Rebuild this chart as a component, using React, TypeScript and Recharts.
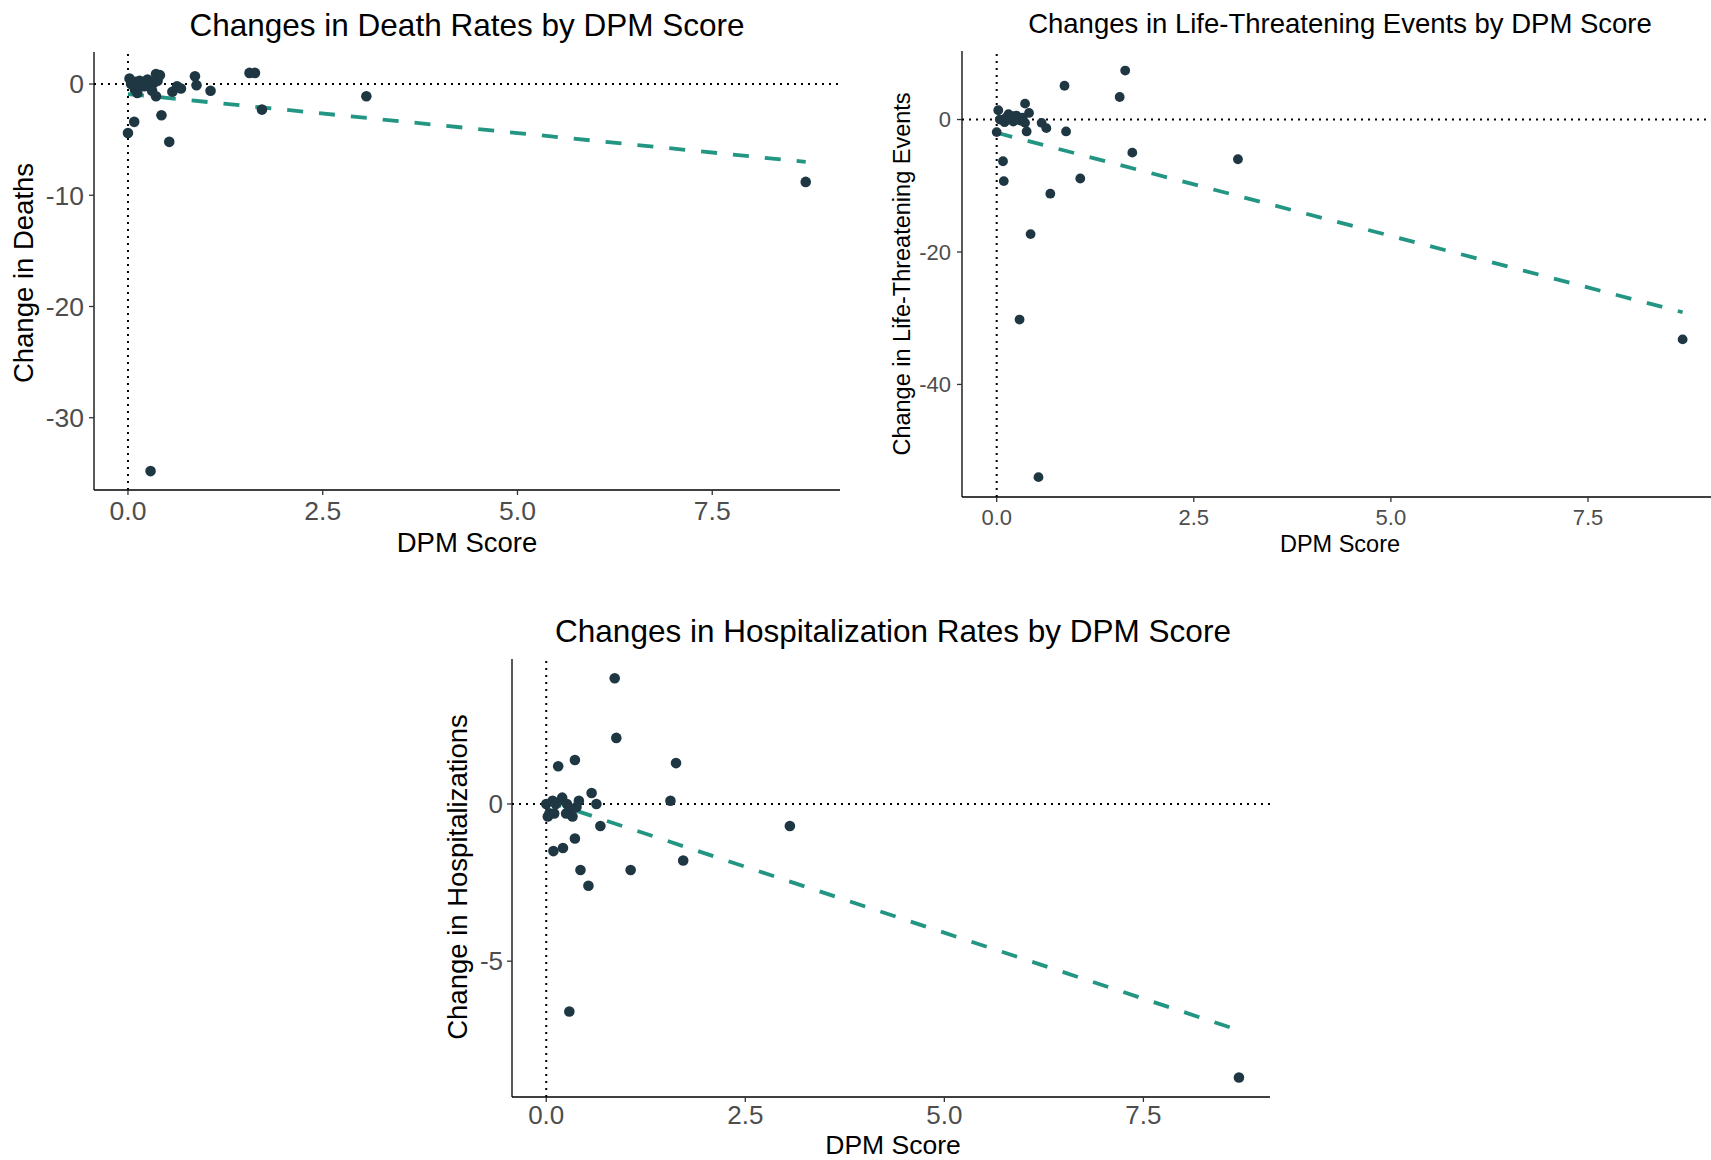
import React from 'react';
import { ScatterChart, Scatter, XAxis, YAxis, ReferenceLine } from 'recharts';

// one entry per observation, shared by the three panels
const dpmScores = [
  0.0, 0.02, 0.08, 0.09, 0.15, 0.2, 0.21, 0.25, 0.29, 0.31, 0.36, 0.36, 0.38, 0.41, 0.43, 0.53,
  0.57, 0.63, 0.68, 0.86, 0.88, 1.06, 1.56, 1.63, 1.72, 3.06, 8.7, 0.04, 0.1, 0.12, 0.26, 0.33,
];
const deathChanges = [
  -4.4, 0.5, -3.4, -0.5, 0.3, 0.0, -0.2, 0.4, -34.8, -0.6, 0.9, -1.1, 0.3, 0.8, -2.8, -5.2,
  -0.7, -0.2, -0.4, 0.7, -0.1, -0.6, 1.0, 1.0, -2.3, -1.1, -8.8, 0.0, 0.2, -0.8, 0.2, 0.1,
];
const lifeThreatChanges = [
  -1.9, 1.4, -6.3, -9.3, 0.8, 0.5, -0.3, 0.6, -30.2, -0.2, 2.4, -0.5, -1.8, 1.0, -17.3, -54.0,
  -0.5, -1.3, -11.2, 5.1, -1.8, -8.9, 3.4, 7.4, -5.0, -6.0, -33.2, 0.0, -0.4, 0.3, 0.0, 0.3,
];
const hospChanges = [
  0.0, -0.4, 0.1, -1.5, 1.2, 0.2, -1.4, -0.3, -6.6, -0.2, 1.4, -1.1, -0.1, 0.1, -2.1, -2.6,
  0.35, 0.0, -0.7, 4.0, 2.1, -2.1, 0.1, 1.3, -1.8, -0.7, -8.7, -0.3, -0.3, 0.0, 0.0, -0.4,
];

const xTicks = [0, 2.5, 5, 7.5];
const deathTicks = [-30, -20, -10, 0];
const lifeThreatTicks = [-40, -20, 0];
const hospTicks = [-5, 0];

// linear fit, read at both ends of the DPM range
const fitX = [0, 8.7];
const deathFit = [-0.9, -7.0];
const lifeThreatFit = [-2.0, -29.1];
const hospFit = [0.1, -7.2];

const FONT = "'Liberation Sans', Arial, Helvetica, sans-serif";
const DOT = '#1e3743';
const TEAL = '#229682';

interface PanelProps {
  left: number;
  top: number;
  width: number;
  height: number;
  margin: { top: number; right: number; bottom: number; left: number };
  yAxisWidth: number;
  xAxisHeight: number;
  xDomain: [number, number];
  yDomain: [number, number];
  yTicks: number[];
  changes: number[];
  fit: number[];
  tickFont: number;
  xTickMargin: number;
  yTickMargin: number;
  dotR: number;
}

function Panel(p: PanelProps) {
  const points = dpmScores.map((dpm, i) => ({ dpm, change: p.changes[i] }));
  const tickStyle = { fontSize: p.tickFont, fill: '#4d4d4d', fontFamily: FONT };
  return (
    <div style={{ position: 'absolute', left: p.left, top: p.top }}>
      <ScatterChart width={p.width} height={p.height} margin={p.margin}>
        <XAxis
          type="number"
          dataKey="dpm"
          domain={p.xDomain}
          allowDataOverflow
          ticks={xTicks}
          tickFormatter={(v: number) => v.toFixed(1)}
          height={p.xAxisHeight}
          tick={tickStyle}
          tickSize={5}
          tickMargin={p.xTickMargin}
          axisLine={{ stroke: '#000', strokeWidth: 1.3 }}
          tickLine={{ stroke: '#333', strokeWidth: 1.3 }}
        />
        <YAxis
          type="number"
          dataKey="change"
          domain={p.yDomain}
          allowDataOverflow
          ticks={p.yTicks}
          width={p.yAxisWidth}
          tick={tickStyle}
          tickSize={5}
          tickMargin={p.yTickMargin}
          axisLine={{ stroke: '#000', strokeWidth: 1.3 }}
          tickLine={{ stroke: '#333', strokeWidth: 1.3 }}
        />
        <ReferenceLine y={0} stroke="#000" strokeWidth={2} strokeDasharray="2 5" />
        <ReferenceLine x={0} stroke="#000" strokeWidth={2} strokeDasharray="2 5" />
        <Scatter
          data={points}
          fill={DOT}
          isAnimationActive={false}
          shape={(s: any) => <circle cx={s.cx} cy={s.cy} r={p.dotR} fill={DOT} />}
        />
        <ReferenceLine
          segment={[
            { x: fitX[0], y: p.fit[0] },
            { x: fitX[1], y: p.fit[1] },
          ]}
          stroke={TEAL}
          strokeWidth={3.8}
          strokeDasharray="16 16"
        />
      </ScatterChart>
    </div>
  );
}

export default function App() {
  return (
    <div
      style={{
        position: 'absolute',
        left: 0,
        top: 0,
        width: 1711,
        height: 1160,
        background: '#fff',
        overflow: 'hidden',
      }}
    >
      <Panel
        left={0}
        top={0}
        width={860}
        height={560}
        margin={{ top: 52, right: 20, bottom: 0, left: 0 }}
        yAxisWidth={94}
        xAxisHeight={70}
        xDomain={[-0.436, 9.14]}
        yDomain={[-36.5, 2.88]}
        yTicks={deathTicks}
        changes={deathChanges}
        fit={deathFit}
        tickFont={26.5}
        xTickMargin={6}
        yTickMargin={5}
        dotR={5.3}
      />
      <Panel
        left={860}
        top={0}
        width={851}
        height={560}
        margin={{ top: 51, right: 0, bottom: 0, left: 0 }}
        yAxisWidth={102}
        xAxisHeight={63}
        xDomain={[-0.44, 9.06]}
        yDomain={[-57.0, 10.35]}
        yTicks={lifeThreatTicks}
        changes={lifeThreatChanges}
        fit={lifeThreatFit}
        tickFont={22}
        xTickMargin={7}
        yTickMargin={6}
        dotR={4.9}
      />
      <Panel
        left={420}
        top={580}
        width={860}
        height={580}
        margin={{ top: 79, right: 10, bottom: 0, left: 0 }}
        yAxisWidth={92}
        xAxisHeight={63}
        xDomain={[-0.43, 9.09]}
        yDomain={[-9.32, 4.61]}
        yTicks={hospTicks}
        changes={hospChanges}
        fit={hospFit}
        tickFont={26}
        xTickMargin={4}
        yTickMargin={4}
        dotR={5.3}
      />
      <svg
        width={1711}
        height={1160}
        style={{ position: 'absolute', left: 0, top: 0, pointerEvents: 'none' }}
        fontFamily={FONT}
      >
        <text x={467} y={36} fontSize={31.5} textAnchor="middle" fill="#000">
          Changes in Death Rates by DPM Score
        </text>
        <text x={467} y={552} fontSize={27.5} textAnchor="middle" fill="#000">
          DPM Score
        </text>
        <text x={33} y={273} fontSize={27.5} textAnchor="middle" fill="#000" transform="rotate(-90 33 273)">
          Change in Deaths
        </text>

        <text x={1340} y={33} fontSize={27.5} textAnchor="middle" fill="#000">
          Changes in Life-Threatening Events by DPM Score
        </text>
        <text x={1340} y={552} fontSize={23.5} textAnchor="middle" fill="#000">
          DPM Score
        </text>
        <text x={910} y={274} fontSize={23.5} textAnchor="middle" fill="#000" transform="rotate(-90 910 274)">
          Change in Life-Threatening Events
        </text>

        <text x={893} y={642} fontSize={31.5} textAnchor="middle" fill="#000">
          Changes in Hospitalization Rates by DPM Score
        </text>
        <text x={893} y={1154} fontSize={26.5} textAnchor="middle" fill="#000">
          DPM Score
        </text>
        <text x={467} y={877} fontSize={27.5} textAnchor="middle" fill="#000" transform="rotate(-90 467 877)">
          Change in Hospitalizations
        </text>
      </svg>
    </div>
  );
}
